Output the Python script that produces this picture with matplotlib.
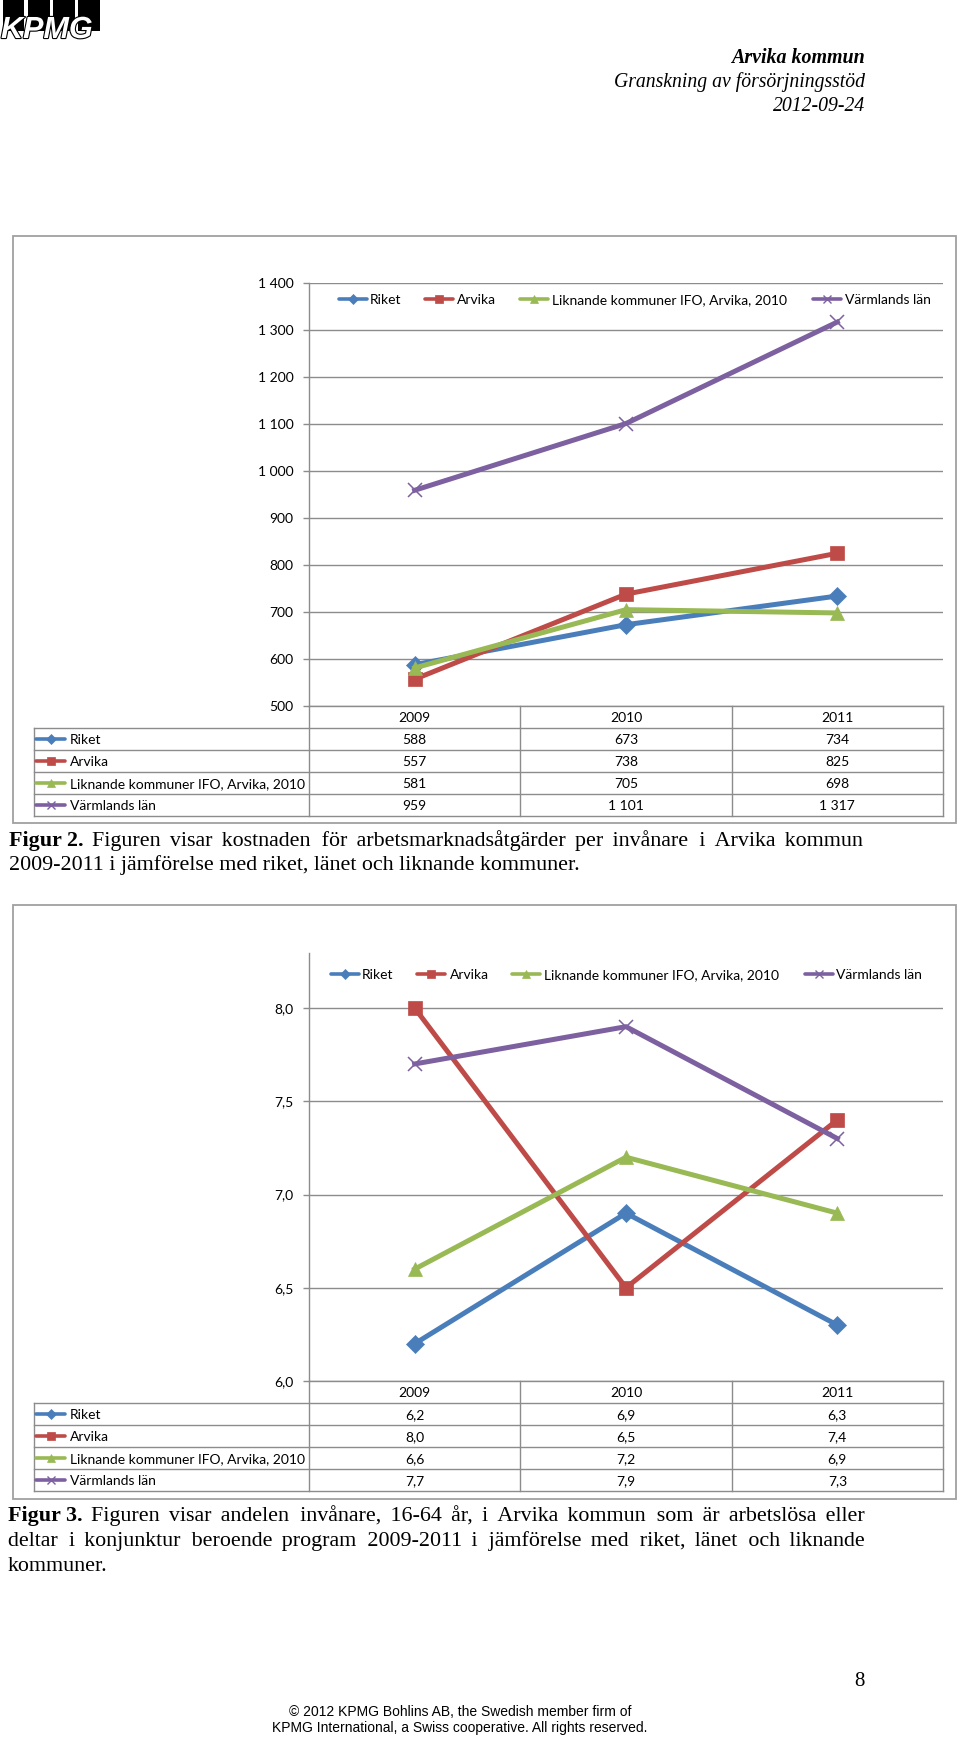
import matplotlib
matplotlib.use("Agg")
import matplotlib.pyplot as plt
from matplotlib.lines import Line2D
from matplotlib.patches import Rectangle
import matplotlib.patheffects as pe

# ---------------- data ----------------
years = ["2009", "2010", "2011"]
series_names = ["Riket", "Arvika", "Liknande kommuner IFO, Arvika, 2010", "Värmlands län"]

cost_riket = [588, 673, 734]
cost_arvika = [557, 738, 825]
cost_liknande = [581, 705, 698]
cost_varmland = [959, 1101, 1317]
cost_ticks = [500, 600, 700, 800, 900, 1000, 1100, 1200, 1300, 1400]

unemp_riket = [6.2, 6.9, 6.3]
unemp_arvika = [8.0, 6.5, 7.4]
unemp_liknande = [6.6, 7.2, 6.9]
unemp_varmland = [7.7, 7.9, 7.3]
unemp_ticks = [6.0, 6.5, 7.0, 7.5, 8.0]

caption2_label = "Figur 2."
caption2_lines = ["Figuren visar kostnaden för arbetsmarknadsåtgärder per invånare i Arvika kommun",
                  "2009-2011 i jämförelse med riket, länet och liknande kommuner."]
caption3_label = "Figur 3."
caption3_lines = ["Figuren visar andelen invånare, 16-64 år, i Arvika kommun som är arbetslösa eller",
                  "deltar i konjunktur beroende program 2009-2011 i jämförelse med riket, länet och liknande",
                  "kommuner."]

# ---------------- style ----------------
W, H, DPI = 960, 1739, 100
colors = ["#4A7EBB", "#BE4B48", "#98B954", "#7D60A0"]
markers = ["D", "s", "^", "x"]
msizes = [9, 10, 10, 10]
GRID = "#8C8C8C"
CF = "Lato"        # chart font (Calibri substitute)
CFS = 10
SERIF = "Liberation Serif"
SERIF_LIST = ["Liberation Serif", "DejaVu Serif", "DejaVu Sans"]
CAP = 15.8

fig = plt.figure(figsize=(W / DPI, H / DPI), dpi=DPI)
fig.patch.set_facecolor("white")


def fx(x):
    return x / W


def fy(y):
    return 1 - y / H


def fline(xs, ys, **kw):
    fig.add_artist(Line2D([fx(v) for v in xs], [fy(v) for v in ys], transform=fig.transFigure, **kw))


def frect(x0, y0, x1, y1, **kw):
    fig.add_artist(Rectangle((fx(x0), fy(y1)), fx(x1) - fx(x0), (y1 - y0) / H,
                             transform=fig.transFigure, **kw))


def key(x0, y, i, length=28, ms_scale=0.6):
    fline([x0, x0 + length], [y, y], color=colors[i], lw=2.6, solid_capstyle="round")
    xm = x0 + length / 2
    fig.add_artist(Line2D([fx(xm)], [fy(y)], transform=fig.transFigure, marker=markers[i],
                          ms=msizes[i] * ms_scale, color=colors[i], mec=colors[i],
                          mew=1.0 if markers[i] == "x" else 0.5, lw=0))


# ---------------- header ----------------
for i, (x0, x1) in enumerate([(3, 24), (28, 50), (53, 75), (78, 100)]):
    frect(x0, 0, x1, 31, facecolor="black", edgecolor="none")
t = fig.text(fx(1), fy(38), "KPMG", fontsize=22, family="Liberation Sans", weight="bold",
             style="italic", color="white", ha="left", va="baseline")
t.set_path_effects([pe.withStroke(linewidth=1.6, foreground="black")])

fig.text(fx(865), fy(63), "Arvika kommun", family=SERIF, fontsize=14.4, weight="bold",
         style="italic", ha="right", va="baseline")
fig.text(fx(865), fy(87), "Granskning av försörjningsstöd", family=SERIF, fontsize=14.2,
         style="italic", ha="right", va="baseline")
fig.text(fx(865), fy(111), "2012-09-24", family=SERIF, fontsize=14.2,
         style="italic", ha="right", va="baseline")


def ctext(x, y, s, ha="left"):
    # chart text placed on a baseline 5 px below the visual centre line y
    fig.text(fx(x), fy(y + 5), s, family=CF, fontsize=CFS, ha=ha, va="baseline")


# ---------------- chart builder ----------------
def build_chart(frame, plot_box, ylim, ticks, fmt, data, legend_marks, legend_texts, table_rows, ly):
    fx0, fy0, fx1, fy1 = frame
    frect(fx0, fy0, fx1, fy1, facecolor="none", edgecolor="#A0A0A0", lw=1.3)
    left, top, right, bottom = plot_box
    ax = fig.add_axes([fx(left), fy(bottom), fx(right) - fx(left), (bottom - top) / H])
    ax.set_facecolor("none")
    ax.set_xlim(0, 3)
    ax.set_ylim(*ylim)
    ax.set_yticks(ticks)
    ax.set_yticklabels([fmt(v) for v in ticks], family=CF, fontsize=CFS)
    ax.set_xticks([])
    for s in ["top", "right", "bottom"]:
        ax.spines[s].set_visible(False)
    ax.spines["left"].set_color(GRID)
    ax.spines["left"].set_linewidth(1.0)
    ax.tick_params(axis="y", length=4, width=1.0, color=GRID, pad=7, labelcolor="black")
    ax.yaxis.grid(True, color=GRID, lw=1.0)
    ax.set_axisbelow(True)
    xs = [0.5, 1.5, 2.5]
    for i, vals in enumerate(data):
        ax.plot(xs, vals, color=colors[i], lw=3.6, marker=markers[i], ms=msizes[i],
                mec=colors[i], mfc=colors[i], mew=1.1 if markers[i] == "x" else 0.5,
                solid_joinstyle="round", clip_on=False, zorder=3 + i)
    # legend
    for i in range(4):
        key(legend_marks[i], ly, i)
        ctext(legend_texts[i], ly, series_names[i])
    # data table
    rh = 22
    cols = [left + (right - left) * k / 3 for k in range(4)]
    tbl_left = 34
    hdr_top = bottom
    row_tops = [hdr_top + rh * (k + 1) for k in range(5)]
    fline([left, right], [hdr_top, hdr_top], color=GRID, lw=1.0)
    for yv in row_tops:
        fline([tbl_left, right], [yv, yv], color=GRID, lw=1.0)
    fline([tbl_left, tbl_left], [row_tops[0], row_tops[-1]], color=GRID, lw=1.0)
    for c in cols:
        fline([c, c], [hdr_top, row_tops[-1]], color=GRID, lw=1.0)
    for k, yr in enumerate(years):
        ctext((cols[k] + cols[k + 1]) / 2, hdr_top + rh // 2, yr, ha="center")
    for r in range(4):
        yc = row_tops[r] + rh // 2
        key(tbl_left + 2, yc, r, length=29)
        ctext(tbl_left + 36, yc, series_names[r])
        for k in range(3):
            ctext((cols[k] + cols[k + 1]) / 2, yc, table_rows[r][k], ha="center")
    return ax


def fmt_thousands(v):
    return f"{int(v):,}".replace(",", " ")


def fmt_comma(v):
    return f"{v:.1f}".replace(".", ",")


cost_data = [cost_riket, cost_arvika, cost_liknande, cost_varmland]
build_chart((13, 236, 956, 823), (309, 283, 943, 706), (500, 1400), cost_ticks, fmt_thousands,
            cost_data, [339, 425, 520, 813], [370, 457, 552, 845],
            [[fmt_thousands(v) for v in s] for s in cost_data], 299)

unemp_data = [unemp_riket, unemp_arvika, unemp_liknande, unemp_varmland]
build_chart((13, 905, 956, 1499), (309, 953, 943, 1381), (6.0, 8.295), unemp_ticks, fmt_comma,
            unemp_data, [331, 417, 512, 805], [362, 450, 544, 836],
            [[fmt_comma(v) for v in s] for s in unemp_data], 974)


# ---------------- captions (justified) ----------------
renderer = fig.canvas.get_renderer()


def measure(s, weight="normal"):
    t = fig.text(0, 0, s, family=SERIF_LIST, fontsize=CAP, weight=weight)
    w = t.get_window_extent(renderer).width
    t.remove()
    return w


SPACE = measure("a a") - measure("aa")
FINE, FINE_W = " ", SPACE
for cand in ["\u200a", "\u2009", "\u2006"]:
    wc = measure("a" + cand + "a") - measure("aa")
    if 0.8 <= wc <= 6:
        FINE, FINE_W = cand, wc
        break


def justified(words, total_extra):
    """Join words with one normal space plus fine spaces distributing total_extra px."""
    gaps = len(words) - 1
    out = words[0]
    used = 0.0
    for i in range(gaps):
        target = total_extra * (i + 1) / gaps
        k = max(0, round((target - used) / FINE_W))
        used += k * FINE_W
        out += " " + FINE * k + words[i + 1]
    return out


def cap_text(x, y, s, weight="normal", ha="left"):
    fig.text(fx(x), fy(y), s, family=SERIF_LIST, fontsize=CAP, weight=weight, ha=ha, va="baseline")


def layout_paragraph(label, lines, x0, x1, y0, lh):
    for li, line in enumerate(lines):
        y = y0 + li * lh
        last = li == len(lines) - 1
        words = line.split()
        if li == 0:
            wl = measure(label, "bold")
            cap_text(x0, y, label, weight="bold")
            if last:
                cap_text(x0 + wl + SPACE, y, line)
                continue
            wr = measure(line)
            slack = (x1 - x0) - wl - SPACE - wr
            per_gap = slack / len(words)
            cap_text(x1, y, justified(words, per_gap * (len(words) - 1)), ha="right")
        else:
            if last:
                cap_text(x0, y, line)
                continue
            wr = measure(line)
            cap_text(x0, y, justified(words, (x1 - x0) - wr))


layout_paragraph(caption2_label, caption2_lines, 9, 863, 846, 24)
layout_paragraph(caption3_label, caption3_lines, 8, 865, 1521, 25)

# ---------------- footer ----------------
fig.text(fx(865), fy(1686), "8", family=SERIF, fontsize=15, ha="right", va="baseline")
fig.text(fx(460), fy(1716), "© 2012 KPMG Bohlins AB, the Swedish member firm of",
         family="Liberation Sans", fontsize=10, ha="center", va="baseline")
fig.text(fx(460), fy(1732), "KPMG International, a Swiss cooperative. All rights reserved.",
         family="Liberation Sans", fontsize=10, ha="center", va="baseline")

fig.savefig("out.png", dpi=DPI, facecolor="white")
